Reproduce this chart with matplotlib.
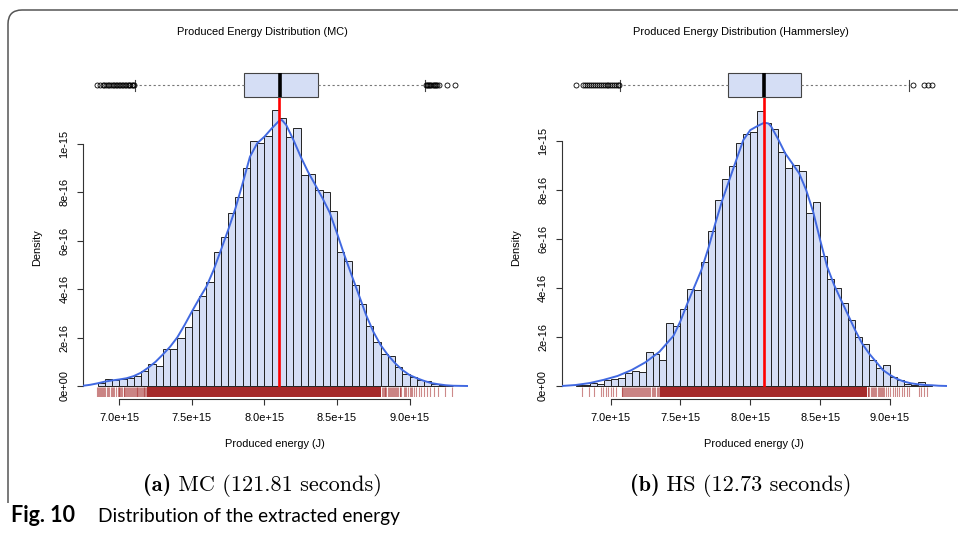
import numpy as np
import matplotlib
matplotlib.use('Agg')
import matplotlib.pyplot as plt
from matplotlib.path import Path
from matplotlib.patches import PathPatch

plt.rcParams['font.family'] = ['Liberation Sans', 'DejaVu Sans']

# ---- data (energy in 1e15 J, density in 1e-15) ----
bin_width = 0.05

mc_bin_start = 6.85
mc_hist = [0.014, 0.028, 0.025, 0.028, 0.033, 0.043, 0.062, 0.089, 0.083, 0.151,
           0.151, 0.198, 0.245, 0.315, 0.373, 0.430, 0.554, 0.614, 0.713, 0.780,
           0.901, 1.010, 1.002, 1.033, 1.138, 1.107, 1.026, 1.063, 0.869, 0.875,
           0.809, 0.799, 0.722, 0.554, 0.515, 0.416, 0.337, 0.249, 0.180, 0.131,
           0.125, 0.078, 0.050, 0.039, 0.025, 0.022, 0.010, 0.003, 0.002]
mc_kde_x = [6.75, 6.80, 6.85, 6.90, 6.95, 7.00, 7.05, 7.10, 7.15, 7.20, 7.25, 7.30,
            7.35, 7.40, 7.45, 7.50, 7.55, 7.60, 7.65, 7.70, 7.75, 7.80, 7.85, 7.90,
            7.95, 8.00, 8.05, 8.10, 8.12, 8.15, 8.20, 8.25, 8.30, 8.35, 8.40, 8.45,
            8.50, 8.55, 8.60, 8.65, 8.70, 8.75, 8.80, 8.85, 8.90, 8.95, 9.00, 9.05,
            9.10, 9.15, 9.20, 9.25, 9.30, 9.35, 9.40]
mc_kde_y = [0.001, 0.005, 0.011, 0.018, 0.023, 0.027, 0.032, 0.041, 0.055, 0.076,
            0.100, 0.130, 0.162, 0.201, 0.252, 0.307, 0.360, 0.410, 0.479, 0.561,
            0.644, 0.733, 0.837, 0.946, 1.002, 1.029, 1.063, 1.094, 1.098, 1.077,
            1.015, 0.946, 0.884, 0.830, 0.775, 0.715, 0.630, 0.541, 0.458, 0.376,
            0.293, 0.224, 0.169, 0.128, 0.094, 0.066, 0.045, 0.032, 0.021, 0.012,
            0.007, 0.003, 0.001, 0.0005, 0.0]
mc_mean = 8.10
mc_box = dict(q1=7.862, med=8.108, q3=8.366, whislo=7.108, whishi=9.108)
mc_fliers = [6.844, 6.866, 6.885, 6.897, 6.910, 6.921, 6.930, 6.942, 6.955, 6.963,
             6.975, 6.986, 6.995, 7.005, 7.016, 7.027, 7.036, 7.048, 7.057, 7.068,
             7.077, 7.088, 7.097, 7.104,
             9.113, 9.120, 9.128, 9.135, 9.142, 9.150, 9.158, 9.166, 9.174, 9.182,
             9.190, 9.200, 9.260, 9.315]
mc_rug_dense = (7.19, 8.80)
mc_rug_ticks = [6.849, 6.855, 6.860, 6.866, 6.872, 6.881, 6.890, 6.896, 6.902, 6.913,
                6.920, 6.932, 6.940, 6.948, 6.959, 6.966, 6.978, 6.989, 6.995, 7.001,
                7.008, 7.015, 7.022, 7.029, 7.035, 7.042, 7.049, 7.056, 7.062, 7.069,
                7.075, 7.081, 7.087, 7.093, 7.100, 7.109, 7.115, 7.120, 7.125, 7.131,
                7.137, 7.143, 7.150, 7.156, 7.162, 7.168, 7.173, 7.178, 7.184,
                8.809, 8.815, 8.821, 8.827, 8.832, 8.840, 8.849, 8.855, 8.862, 8.870,
                8.878, 8.884, 8.890, 8.898, 8.906, 8.913, 8.920, 8.931, 8.937, 8.943,
                8.959, 8.966, 8.973, 8.986, 9.000, 9.008, 9.016, 9.032, 9.046, 9.062,
                9.078, 9.097, 9.120, 9.138, 9.166, 9.193, 9.242, 9.292]

hs_bin_start = 6.75
hs_hist = [0.003, 0.004, 0.014, 0.010, 0.023, 0.029, 0.033, 0.052, 0.060, 0.056,
           0.138, 0.132, 0.105, 0.256, 0.244, 0.313, 0.395, 0.392, 0.508, 0.635,
           0.761, 0.847, 0.900, 0.992, 1.028, 1.037, 1.125, 1.076, 1.050, 0.956,
           0.890, 0.905, 0.880, 0.708, 0.753, 0.533, 0.439, 0.400, 0.341, 0.268,
           0.202, 0.173, 0.105, 0.075, 0.084, 0.035, 0.023, 0.008, 0.005, 0.015,
           0.003]
hs_kde_x = [6.65, 6.75, 6.85, 6.95, 7.05, 7.15, 7.25, 7.35, 7.45, 7.50, 7.55, 7.60,
            7.65, 7.70, 7.75, 7.80, 7.85, 7.90, 7.95, 8.00, 8.05, 8.10, 8.13, 8.15,
            8.20, 8.25, 8.30, 8.35, 8.40, 8.45, 8.50, 8.55, 8.60, 8.65, 8.70, 8.75,
            8.80, 8.85, 8.90, 8.95, 9.00, 9.05, 9.10, 9.15, 9.20, 9.25, 9.30, 9.35,
            9.41]
hs_kde_y = [0.0, 0.004, 0.012, 0.025, 0.041, 0.065, 0.097, 0.140, 0.205, 0.265,
            0.338, 0.406, 0.474, 0.563, 0.665, 0.760, 0.842, 0.924, 1.005, 1.046,
            1.062, 1.076, 1.073, 1.060, 1.008, 0.951, 0.910, 0.869, 0.801, 0.712,
            0.597, 0.488, 0.413, 0.351, 0.290, 0.229, 0.174, 0.133, 0.099, 0.065,
            0.045, 0.029, 0.018, 0.011, 0.007, 0.004, 0.003, 0.001, 0.0]
hs_mean = 8.098
hs_box = dict(q1=7.8425, med=8.100, q3=8.361, whislo=7.069, whishi=9.136)
hs_fliers = [6.750, 6.805, 6.815, 6.832, 6.848, 6.858, 6.875, 6.890, 6.902, 6.915,
             6.930, 6.945, 6.960, 6.972, 6.985, 6.998, 7.010, 7.025, 7.040, 7.052,
             7.062, 9.162, 9.243, 9.270, 9.298]
hs_rug_dense = (7.354, 8.833)
hs_rug_ticks = [6.793, 6.848, 6.881, 6.929, 6.948, 6.965, 6.984, 7.001, 7.015, 7.039,
                7.079, 7.085, 7.091, 7.097, 7.103, 7.109, 7.115, 7.122, 7.129, 7.136,
                7.144, 7.150, 7.158, 7.165, 7.172, 7.180, 7.187, 7.194, 7.201, 7.208,
                7.215, 7.222, 7.229, 7.237, 7.246, 7.254, 7.263, 7.270, 7.277, 7.285,
                7.294, 7.302, 7.311, 7.320, 7.330, 7.338, 7.346,
                8.840, 8.845, 8.853, 8.862, 8.870, 8.881, 8.888, 8.895, 8.903, 8.912,
                8.920, 8.928, 8.935, 8.943, 8.950, 8.957, 8.971, 8.988, 9.000, 9.019,
                9.036, 9.052, 9.067, 9.083, 9.100, 9.124, 9.138, 9.205, 9.219, 9.246,
                9.267]

xtick_vals = [7.0, 7.5, 8.0, 8.5, 9.0]
xtick_labels = ['7.0e+15', '7.5e+15', '8.0e+15', '8.5e+15', '9.0e+15']
ytick_vals = [0.0, 0.2, 0.4, 0.6, 0.8, 1.0]
ytick_labels = ['0e+00', '2e-16', '4e-16', '6e-16', '8e-16', '1e-15']

titles = ['Produced Energy Distribution (MC)', 'Produced Energy Distribution (Hammersley)']
caption_tags = ['(a)', '(b)']
caption_texts = [' MC (121.81 seconds)', ' HS (12.73 seconds)']

# ---- layout helpers (pixels) ----
W, H = 958, 535
fig = plt.figure(figsize=(W / 100, H / 100), dpi=100)
renderer = fig.canvas.get_renderer()


def add_ax(left, top, right, bottom):
    return fig.add_axes([left / W, 1 - bottom / H, (right - left) / W, (bottom - top) / H])


def two_part_text(x0, y, first, second, kw1, kw2, center=False):
    t1 = fig.text(0, 1 - y / H, first, va='baseline', **kw1)
    t2 = fig.text(0, 1 - y / H, second, va='baseline', **kw2)
    w1 = t1.get_window_extent(renderer).width
    w2 = t2.get_window_extent(renderer).width
    if center:
        x0 = x0 - (w1 + w2) / 2
    t1.set_x(x0 / W)
    t2.set_x((x0 + w1) / W)


fill_col = '#D5DEF5'
rug_col = '#A52A2A'
fs = 7.9


def panel(left, right, xlim, ylim, bin_start, hist, kde_x, kde_y, mean, box,
          fliers, rug_dense, rug_ticks, title, tag, cap, title_x):
    ax = add_ax(left, 98, right, 397)
    edges = bin_start + bin_width * np.arange(len(hist))
    ax.bar(edges, hist, width=bin_width, align='edge', color=fill_col,
           edgecolor='#222222', linewidth=0.7, zorder=1)
    ax.plot(kde_x, kde_y, color='#4169E1', lw=1.4, zorder=3)
    ax.axvline(mean, color='#FF0000', lw=1.9, zorder=4)
    ax.fill_between(rug_dense, ylim[0], -0.004, color=rug_col, lw=0, zorder=5)
    ax.vlines(rug_ticks, ylim[0], -0.004, color=rug_col, lw=0.8, alpha=0.55, zorder=5)
    ax.set_xlim(*xlim)
    ax.set_ylim(*ylim)
    for s in ['top', 'right']:
        ax.spines[s].set_visible(False)
    ax.spines['left'].set_bounds(0, 1.0)
    ax.spines['bottom'].set_bounds(7.0, 9.0)
    ax.spines['bottom'].set_position(('outward', 1.5))
    for s in ['left', 'bottom']:
        ax.spines[s].set_linewidth(0.8)
        ax.spines[s].set_color('#333333')
    ax.set_xticks(xtick_vals, xtick_labels)
    ax.set_yticks(ytick_vals, ytick_labels)
    ax.tick_params(length=4.3, width=0.8, color='#333333', labelsize=fs, pad=5.5)
    ax.tick_params(axis='y', labelrotation=90)
    for lab in ax.get_yticklabels():
        lab.set_verticalalignment('center')
    ax.patch.set_visible(False)

    cx = (left + right) / 2
    fig.text(cx / W, 1 - 444 / H, 'Produced energy (J)', ha='center', va='center', fontsize=fs)
    fig.text((left - 46) / W, 1 - 247.5 / H, 'Density', ha='center', va='center',
             rotation=90, fontsize=fs)
    fig.text(title_x / W, 1 - 32 / H, title, ha='center', va='center', fontsize=fs)
    two_part_text(title_x, 491, tag, cap,
                  dict(family='cmb10', fontsize=16), dict(family='cmr10', fontsize=16),
                  center=True)

    # boxplot strip above the histogram
    bx = add_ax(left, 60, right, 110)
    bx.set_xlim(*xlim)
    bx.set_ylim(0, 50)
    bx.axis('off')
    stats = [dict(box, fliers=fliers)]
    bx.bxp(stats, positions=[25], widths=24.6, capwidths=11, orientation='horizontal',
           patch_artist=True, showfliers=True,
           boxprops=dict(facecolor=fill_col, edgecolor='#444444', linewidth=0.8),
           whiskerprops=dict(color='#777777', linestyle=(0, (2, 2.2)), linewidth=0.8),
           capprops=dict(color='#444444', linewidth=0.8),
           medianprops=dict(color='black', linewidth=2.6),
           flierprops=dict(marker='o', markersize=3.6, markerfacecolor='none',
                           markeredgecolor='black', markeredgewidth=0.6))


panel(83, 467.7, (6.75, 9.40), (-0.0454, 1.1886), mc_bin_start, mc_hist,
      mc_kde_x, mc_kde_y, mc_mean, mc_box, mc_fliers, mc_rug_dense, mc_rug_ticks,
      titles[0], caption_tags[0], caption_texts[0], 262.5)
panel(561.7, 946.7, (6.65, 9.406), (-0.045, 1.177), hs_bin_start, hs_hist,
      hs_kde_x, hs_kde_y, hs_mean, hs_box, hs_fliers, hs_rug_dense, hs_rug_ticks,
      titles[1], caption_tags[1], caption_texts[1], 740.5)

# rounded frame (top + left edge)
r = 14
verts = [(8, 503), (8, 10 + r), (8, 10), (8 + r, 10), (W + 5, 10)]
codes = [Path.MOVETO, Path.LINETO, Path.CURVE3, Path.CURVE3, Path.LINETO]
verts = [(x / W, 1 - y / H) for x, y in verts]
frame = PathPatch(Path(verts, codes), facecolor='none', edgecolor='#555555', lw=1.1,
                  transform=fig.transFigure)
fig.add_artist(frame)

fig.text(11 / W, 1 - 522 / H, 'Fig. 10', fontsize=15.5, fontweight='bold',
         family=['Lato', 'DejaVu Sans'], va='baseline')
fig.text(98 / W, 1 - 522 / H, 'Distribution of the extracted energy', fontsize=13.8,
         family=['Lato', 'DejaVu Sans'], va='baseline')

fig.savefig('out.png', dpi=100)
